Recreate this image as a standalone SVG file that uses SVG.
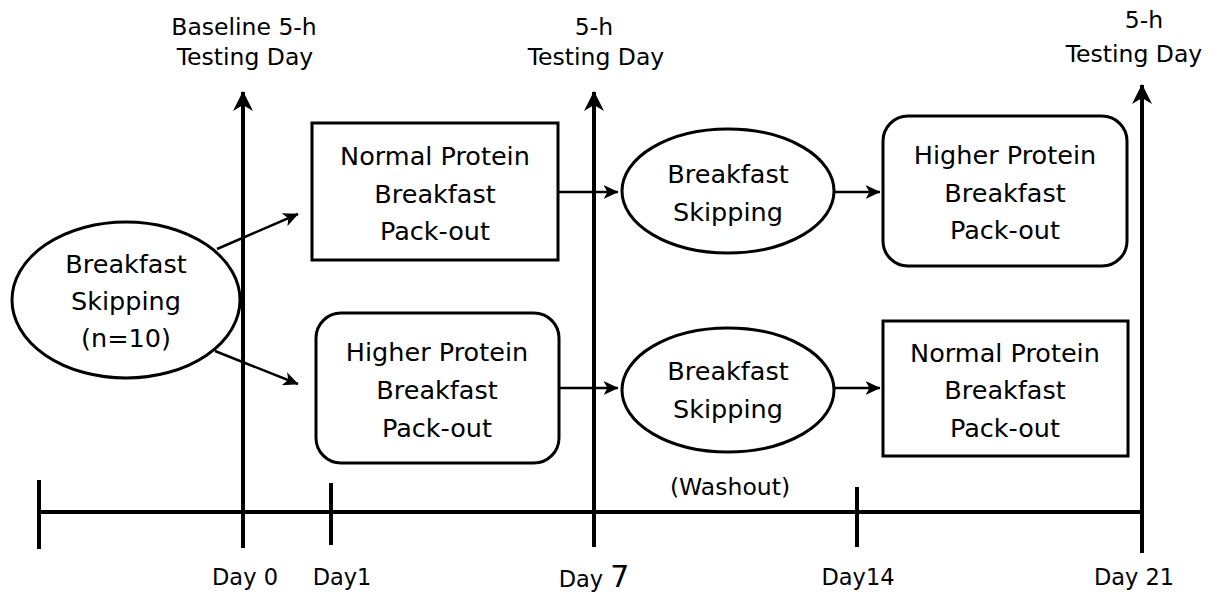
<svg xmlns="http://www.w3.org/2000/svg" width="1213" height="594" viewBox="0 0 1213 594">
<style>
.t{font-family:"DejaVu Sans","Liberation Sans",sans-serif;fill:#000;text-anchor:middle}
.lbl{font-size:23.5px}
.day{font-size:22.5px}
.nt{font-size:25.5px}
.shape{fill:#fff;stroke:#000;stroke-width:3}
.axis{stroke:#000;stroke-width:4;fill:none}
.con{stroke:#000;stroke-width:2.5;fill:none}
</style>
<defs>
<marker id="big" markerUnits="userSpaceOnUse" viewBox="0 0 20 20" refX="19" refY="10" markerWidth="20" markerHeight="20" orient="auto">
<path d="M0,0 L20,10 L0,20 L6,10 z" fill="#000"/>
</marker>
<marker id="sm" markerUnits="userSpaceOnUse" viewBox="0 0 15 14" refX="14.5" refY="7" markerWidth="15" markerHeight="14" orient="auto">
<path d="M0,0 L15,7 L0,14 L4,7 z" fill="#000"/>
</marker>
</defs>
<g id="timeline">
<line class="axis" x1="39" y1="512" x2="1142" y2="512"/>
<line class="axis" x1="39" y1="480" x2="39" y2="549"/>
<line class="axis" x1="331" y1="483" x2="331" y2="545"/>
<line class="axis" x1="857" y1="487" x2="857" y2="547"/>
<line class="axis" x1="243" y1="548" x2="243" y2="92" marker-end="url(#big)"/>
<line class="axis" x1="594" y1="547" x2="594" y2="92" marker-end="url(#big)"/>
<line class="axis" x1="1142" y1="553" x2="1142" y2="85" marker-end="url(#big)"/>
</g>
<g id="labels">
<text class="t lbl" x="244" y="35">Baseline 5-h</text>
<text class="t lbl" x="245" y="65">Testing Day</text>
<text class="t lbl" x="594" y="35">5-h</text>
<text class="t lbl" x="596" y="65">Testing Day</text>
<text class="t lbl" x="1144" y="28">5-h</text>
<text class="t lbl" x="1134" y="62">Testing Day</text>
<text class="t day" x="245" y="585">Day 0</text>
<text class="t day" x="342" y="585">Day1</text>
<text class="t day" x="594" y="587">Day <tspan font-size="30px">7</tspan></text>
<text class="t day" x="858" y="585">Day14</text>
<text class="t day" x="1134" y="585">Day 21</text>
<text class="t lbl" x="730" y="495">(Washout)</text>
</g>
<g id="connectors">
<line class="con" x1="217" y1="249" x2="298" y2="214" marker-end="url(#sm)"/>
<line class="con" x1="215" y1="351" x2="298" y2="384" marker-end="url(#sm)"/>
<line class="con" x1="557" y1="192" x2="618" y2="192" marker-end="url(#sm)"/>
<line class="con" x1="834" y1="192" x2="880" y2="192" marker-end="url(#sm)"/>
<line class="con" x1="560" y1="388" x2="618" y2="388" marker-end="url(#sm)"/>
<line class="con" x1="834" y1="388" x2="880" y2="388" marker-end="url(#sm)"/>
</g>
<g id="start">
<ellipse class="shape" cx="126" cy="300" rx="114" ry="78"/>
<text class="t nt" x="126" y="273">Breakfast</text>
<text class="t nt" x="126" y="310">Skipping</text>
<text class="t nt" x="126" y="347">(n=10)</text>
</g>
<g id="normal1">
<rect class="shape" x="312" y="123" width="246" height="137"/>
<text class="t nt" x="435" y="165">Normal Protein</text>
<text class="t nt" x="435" y="203">Breakfast</text>
<text class="t nt" x="435" y="240">Pack-out</text>
</g>
<g id="higher1">
<rect class="shape" x="316" y="313" width="243" height="150" rx="25"/>
<text class="t nt" x="437" y="361">Higher Protein</text>
<text class="t nt" x="437" y="399">Breakfast</text>
<text class="t nt" x="437" y="437">Pack-out</text>
</g>
<g id="skip1">
<ellipse class="shape" cx="728" cy="191" rx="106" ry="62"/>
<text class="t nt" x="728" y="183">Breakfast</text>
<text class="t nt" x="728" y="221">Skipping</text>
</g>
<g id="skip2">
<ellipse class="shape" cx="728" cy="390" rx="106" ry="62"/>
<text class="t nt" x="728" y="380">Breakfast</text>
<text class="t nt" x="728" y="418">Skipping</text>
</g>
<g id="higher2">
<rect class="shape" x="883" y="116" width="244" height="150" rx="25"/>
<text class="t nt" x="1005" y="164">Higher Protein</text>
<text class="t nt" x="1005" y="202">Breakfast</text>
<text class="t nt" x="1005" y="239">Pack-out</text>
</g>
<g id="normal2">
<rect class="shape" x="883" y="321" width="245" height="135"/>
<text class="t nt" x="1005" y="362">Normal Protein</text>
<text class="t nt" x="1005" y="399">Breakfast</text>
<text class="t nt" x="1005" y="437">Pack-out</text>
</g>
</svg>
